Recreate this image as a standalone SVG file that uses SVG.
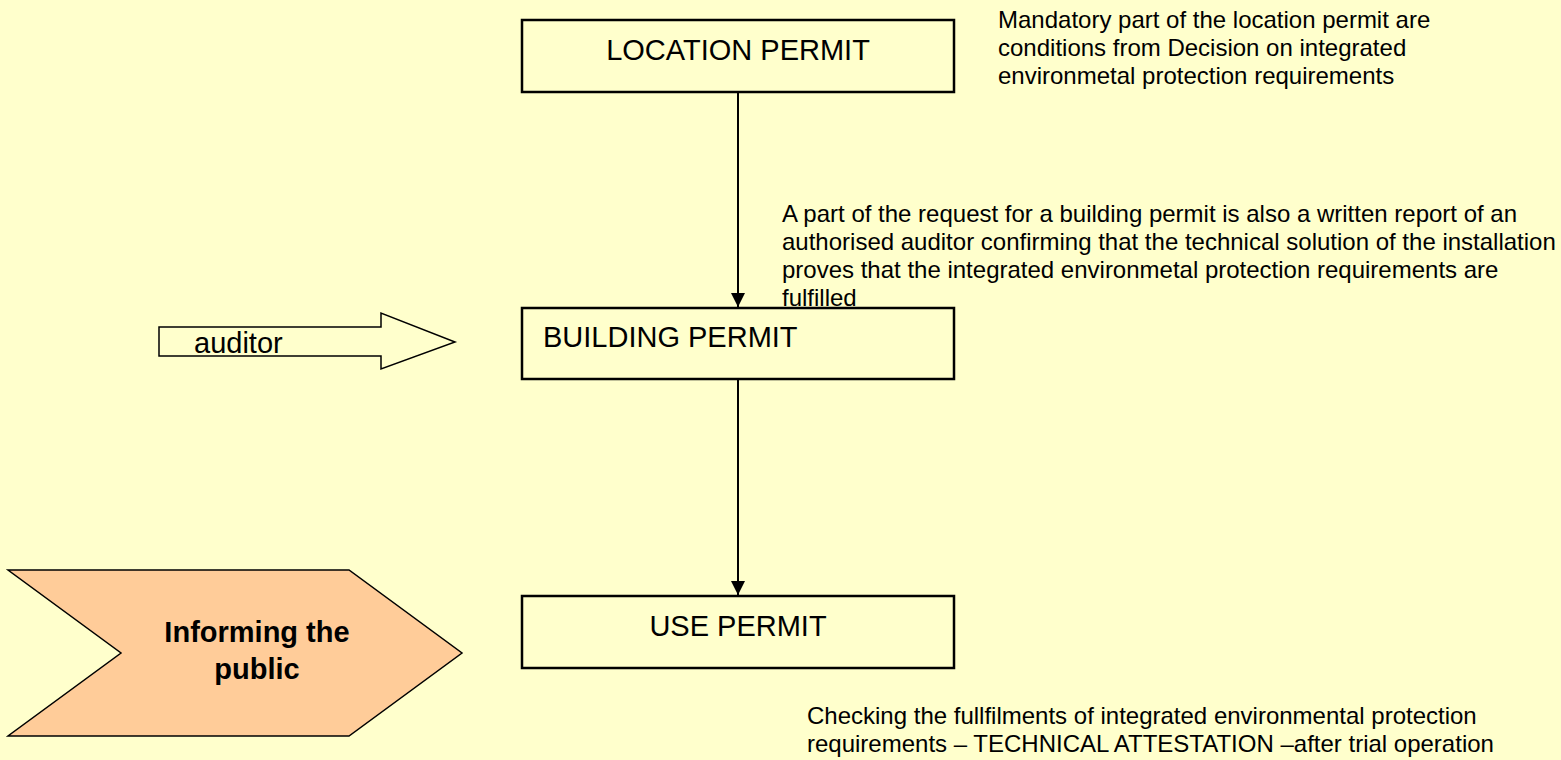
<svg xmlns="http://www.w3.org/2000/svg" width="1561" height="760" viewBox="0 0 1561 760">
  <style>
    .box { fill: #FFFFCC; stroke: #000; stroke-width: 2.5; }
    .lbl { font-family: "Liberation Sans", Arial, sans-serif; font-size: 29px; fill: #000; }
    .note { font-family: "Liberation Sans", Arial, sans-serif; font-size: 24px; fill: #000; }
    .conn { stroke: #000; stroke-width: 2; fill: none; }
  </style>
  <defs>
    <marker id="arrow" markerWidth="14" markerHeight="14" refX="14" refY="7" orient="auto" markerUnits="userSpaceOnUse">
      <path d="M0,0 L14,7 L0,14 Z" fill="#000"/>
    </marker>
  </defs>

  <rect x="0" y="0" width="1561" height="760" fill="#FFFFCC"/>

  <!-- connectors between permits -->
  <g id="connectors">
    <line class="conn" x1="738" y1="92" x2="738" y2="307" marker-end="url(#arrow)"/>
    <line class="conn" x1="738" y1="380" x2="738" y2="595" marker-end="url(#arrow)"/>
  </g>

  <g id="location-permit">
    <rect class="box" x="522" y="20" width="432" height="72"/>
    <text class="lbl" x="738" y="60" text-anchor="middle">LOCATION PERMIT</text>
  </g>

  <g id="building-permit">
    <rect class="box" x="522" y="308" width="432" height="71"/>
    <text class="lbl" x="543" y="347">BUILDING PERMIT</text>
  </g>

  <g id="use-permit">
    <rect class="box" x="522" y="596" width="432" height="72"/>
    <text class="lbl" x="738" y="636" text-anchor="middle">USE PERMIT</text>
  </g>

  <g id="auditor">
    <path d="M159,327 L381,327 L381,313 L455,342 L381,369 L381,356 L159,356 Z" fill="#FFFFCC" stroke="#000" stroke-width="1.5"/>
    <text class="lbl" x="194" y="353" font-size="31.5">auditor</text>
  </g>

  <g id="informing-public">
    <path d="M8,570 L349,570 L462,653 L349,736 L8,736 L121,653 Z" fill="#FFCC99" stroke="#000" stroke-width="1.5"/>
    <text class="lbl" x="257" y="642" text-anchor="middle" font-weight="bold" font-size="32">Informing the</text>
    <text class="lbl" x="257" y="679" text-anchor="middle" font-weight="bold" font-size="32">public</text>
  </g>

  <g id="note-location">
    <text class="note" x="998" y="28">Mandatory part of the location permit are</text>
    <text class="note" x="998" y="56">conditions from Decision on integrated</text>
    <text class="note" x="998" y="84">environmetal protection requirements</text>
  </g>

  <g id="note-building">
    <text class="note" x="782" y="222">A part of the request for a building permit is also a written report of an</text>
    <text class="note" x="782" y="250">authorised auditor confirming that the technical solution of the installation</text>
    <text class="note" x="782" y="278">proves that the integrated environmetal protection requirements are</text>
    <text class="note" x="782" y="306">fulfilled</text>
  </g>

  <g id="note-use">
    <text class="note" x="807" y="724">Checking the fullfilments of integrated environmental protection</text>
    <text class="note" x="807" y="752">requirements – TECHNICAL ATTESTATION –after trial operation</text>
  </g>
</svg>
